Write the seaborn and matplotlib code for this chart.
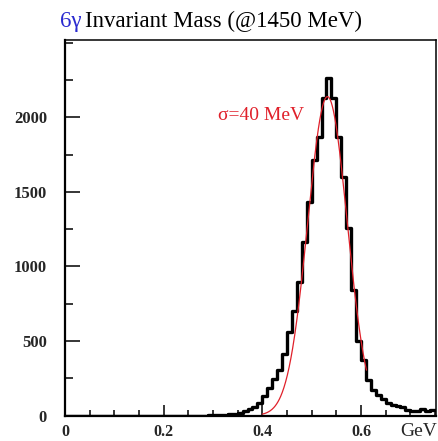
import numpy as np
import pandas as pd
import matplotlib
matplotlib.use("Agg")
import matplotlib.pyplot as plt
import seaborn as sns

# Histogram: 75 bins of 10 MeV from 0 to 0.75 GeV
bin_edges = [round(0.01 * i, 3) for i in range(76)]
counts = [
    0, 0, 0, 0, 0, 0, 0, 0, 0, 0,
    0, 0, 0, 0, 0, 0, 0, 0, 0, 0,
    0, 0, 0, 0, 0, 0, 0, 0, 0, 1,
    3, 4, 5, 8, 12, 15, 28, 41, 59, 86,
    131, 182, 243, 305, 410, 562, 700, 898, 1163, 1435,
    1715, 1871, 2129, 2267, 2129, 1871, 1603, 1256, 842, 500,
    372, 238, 171, 138, 109, 82, 70, 64, 55, 40,
    30, 28, 42, 33, 38,
]

# Gaussian fit parameters (GeV)
fit_mean = 0.532
fit_sigma = 0.040
fit_amp = 2140
fit_range = (0.40, 0.611)

x_ticks = [0, 0.2, 0.4, 0.6]
x_tick_labels = ["0", "0.2", "0.4", "0.6"]
y_ticks = [0, 500, 1000, 1500, 2000]
y_tick_labels = ["0", "500", "1000", "1500", "2000"]

sns.set_style("ticks")
plt.rcParams["font.family"] = ["Liberation Serif", "DejaVu Serif"]

fig = plt.figure(figsize=(4.38, 4.41), dpi=100)
ax = fig.add_axes([65 / 438, 1 - 415.5 / 441, (436 - 65) / 438, (415.5 - 40) / 441])

edges = np.array(bin_edges)
centers = (edges[:-1] + edges[1:]) / 2
df = pd.DataFrame({"mass": centers, "n": np.array(counts, dtype=float)})
sns.histplot(data=df, x="mass", weights="n", bins=bin_edges, element="step",
             fill=False, color="black", linewidth=2.4, ax=ax)

xf = np.linspace(fit_range[0], fit_range[1], 300)
yf = fit_amp * np.exp(-0.5 * ((xf - fit_mean) / fit_sigma) ** 2)
sns.lineplot(x=xf, y=yf, color="#e0202a", linewidth=0.9, ax=ax)

ax.set_xlim(0, 0.752)
ax.set_ylim(0, 2520)
ax.set_xlabel("")
ax.set_ylabel("")

ax.set_xticks(x_ticks)
ax.set_xticklabels(x_tick_labels, fontweight="bold", fontsize=11.5)
ax.set_yticks(y_ticks)
ax.set_yticklabels(y_tick_labels, fontweight="bold", fontsize=12)
ax.set_xticks(np.arange(0, 0.751, 0.05), minor=True)
ax.set_yticks(np.arange(0, 2501, 250), minor=True)
ax.tick_params(axis="both", which="both", bottom=True, left=True, top=False, right=False,
               direction="in", color="black", width=1.1)
ax.tick_params(axis="x", which="major", length=8, pad=6)
ax.tick_params(axis="x", which="minor", length=4.5)
ax.tick_params(axis="y", which="major", length=10.5, pad=13)
ax.tick_params(axis="y", which="minor", length=5.5)

for side in ["left", "bottom"]:
    ax.spines[side].set_linewidth(1.6)
for side in ["top", "right"]:
    ax.spines[side].set_visible(True)
    ax.spines[side].set_linewidth(1.1)
for s in ax.spines.values():
    s.set_color("black")

fig.text(218 / 438, 1 - 116 / 441, "σ=40 MeV", color="#e0202a", fontsize=14,
         va="center", ha="left")

fig.text(400 / 438, 1 - 432 / 441, "GeV", fontsize=14, va="center", ha="left")

fig.text(60 / 438, 1 - 27.5 / 441, "6γ", color="#2a2ad0", fontsize=16.5,
         va="baseline", ha="left")
fig.text(85 / 438, 1 - 27.5 / 441, "Invariant Mass (@1450 MeV)", color="black",
         fontsize=16.5, va="baseline", ha="left")

fig.savefig("out.png", dpi=100)
